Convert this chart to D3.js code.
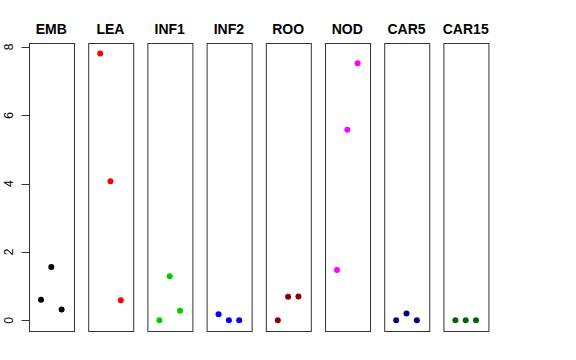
<!DOCTYPE html>
<html><head><meta charset="utf-8">
<script src="https://cdn.jsdelivr.net/npm/d3@7"></script>
<style>body{margin:0;background:#fff}svg{display:block}</style>
</head><body>
<script>
const categories = ["EMB","LEA","INF1","INF2","ROO","NOD","CAR5","CAR15"];
const colors = ["#000000","#FF0000","#00CD00","#0000FF","#8B0000","#FF00FF","#000080","#006400"];
const values = [
  [0.60, 1.56, 0.32],
  [7.81, 4.07, 0.59],
  [0.00, 1.29, 0.28],
  [0.18, 0.00, 0.00],
  [0.00, 0.69, 0.70],
  [1.47, 5.58, 7.52],
  [0.00, 0.20, 0.00],
  [0.00, 0.00, 0.00]
];
const yTicks = [0, 2, 4, 6, 8];

const W = 576, H = 360;
const svg = d3.select("body").append("svg").attr("width", W).attr("height", H);

const xBand = d3.scaleBand().domain(categories).range([29, 488]).paddingInner(0.247);
const y = d3.scaleLinear().domain([-0.3125, 8.125]).range([331, 42.7]);
const xIn = d3.scaleLinear().domain([-0.16, 4.16]).range([0, xBand.bandwidth()]);

categories.forEach((c, i) => {
  const g = svg.append("g").attr("transform", `translate(${xBand(c)},0)`);
  g.selectAll("circle").data(values[i]).enter().append("circle")
    .attr("cx", (d, j) => xIn(j + 1))
    .attr("cy", d => y(d))
    .attr("r", 3)
    .attr("fill", colors[i]);
  g.append("rect")
    .attr("x", 0.5).attr("y", Math.round(y.range()[1]) + 0.5)
    .attr("width", Math.round(xBand.bandwidth()))
    .attr("height", Math.round(y.range()[0]) - Math.round(y.range()[1]))
    .attr("fill", "none").attr("stroke", "#333").attr("stroke-width", 1);
  g.append("text")
    .attr("x", xBand.bandwidth() / 2).attr("y", 34)
    .attr("text-anchor", "middle")
    .attr("font-family", "Liberation Sans, Arial, sans-serif")
    .attr("font-weight", "bold").attr("font-size", 14)
    .text(c);
});

// y axis
const ax = svg.append("g").attr("transform", `translate(${xBand(categories[0]) + 0.5},0)`);
ax.append("line").attr("x1", 0).attr("x2", 0)
  .attr("y1", y(0)).attr("y2", y(8)).attr("stroke", "#333");
ax.selectAll("line.tick").data(yTicks).enter().append("line").attr("class", "tick")
  .attr("x1", 0).attr("x2", -8)
  .attr("y1", d => Math.round(y(d)) + 0.5).attr("y2", d => Math.round(y(d)) + 0.5)
  .attr("stroke", "#333");
ax.selectAll("text").data(yTicks).enter().append("text")
  .attr("transform", d => `translate(-17,${y(d)}) rotate(-90)`)
  .attr("text-anchor", "middle")
  .attr("font-family", "Liberation Sans, Arial, sans-serif")
  .attr("font-size", 12)
  .text(d => d);
</script>
</body></html>
